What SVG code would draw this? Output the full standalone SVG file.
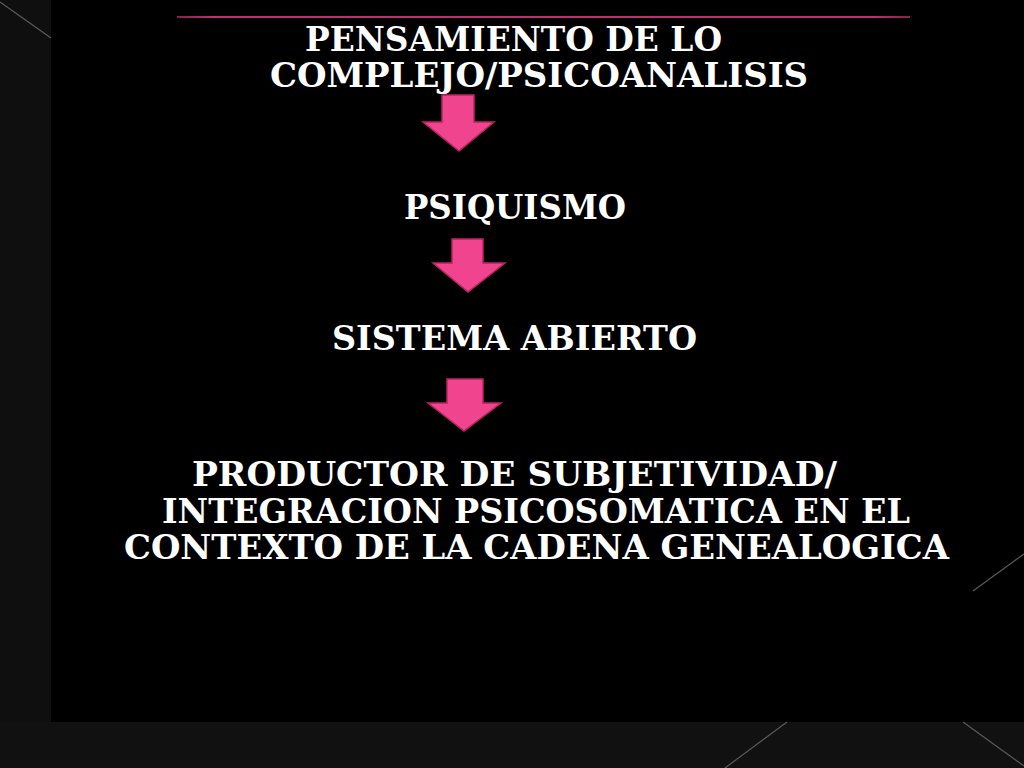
<svg xmlns="http://www.w3.org/2000/svg" width="1024" height="768" viewBox="0 0 1024 768">
<defs>
<style>
.t{font-family:"DejaVu Serif","Liberation Serif",serif;font-weight:bold;font-size:34px;fill:#ffffff}
.arrow{fill:#f0448f;stroke:#b8235f;stroke-width:1.5;stroke-linejoin:miter}
.edge{stroke:#5a5a5a;stroke-width:1.2;fill:none}
</style>
<linearGradient id="pl" gradientUnits="userSpaceOnUse" x1="177" y1="0" x2="910" y2="0">
<stop offset="0" stop-color="#8a2050"/>
<stop offset="0.05" stop-color="#c0306e"/>
<stop offset="0.95" stop-color="#c0306e"/>
<stop offset="1" stop-color="#8a2050"/>
</linearGradient>
</defs>
<rect x="0" y="0" width="1024" height="768" fill="#000"/>
<rect x="0" y="0" width="51" height="768" fill="#0f0f0f"/>
<rect x="0" y="722" width="1024" height="46" fill="#111"/>
<line class="edge" x1="0" y1="2" x2="51" y2="38"/>
<line class="edge" x1="1024" y1="554" x2="973" y2="591"/>
<line class="edge" x1="787" y1="722" x2="725" y2="768"/>
<line class="edge" x1="963" y1="722" x2="1024" y2="766"/>
<rect x="177" y="16" width="733" height="2" fill="url(#pl)"/>
<g id="n1">
<text class="t" x="305" y="51" textLength="417" lengthAdjust="spacingAndGlyphs">PENSAMIENTO DE LO</text>
<text class="t" x="270" y="87" textLength="538" lengthAdjust="spacingAndGlyphs">COMPLEJO/PSICOANALISIS</text>
</g>
<g id="n2">
<text class="t" x="404" y="219" textLength="222" lengthAdjust="spacingAndGlyphs">PSIQUISMO</text>
</g>
<g id="n3">
<text class="t" x="332" y="350" textLength="365" lengthAdjust="spacingAndGlyphs">SISTEMA ABIERTO</text>
</g>
<g id="n4">
<text class="t" x="192" y="486" textLength="645" lengthAdjust="spacingAndGlyphs">PRODUCTOR DE SUBJETIVIDAD/</text>
<text class="t" x="162" y="523" textLength="748" lengthAdjust="spacingAndGlyphs">INTEGRACION PSICOSOMATICA EN EL</text>
<text class="t" x="124" y="559" textLength="825" lengthAdjust="spacingAndGlyphs">CONTEXTO DE LA CADENA GENEALOGICA</text>
</g>
<g id="connectors">
<polygon class="arrow" points="442,95 474,95 474,122 494,122 459,151 423,122 442,122"/>
<polygon class="arrow" points="452,239 483,239 483,263 505,263 468,292 433,263 452,263"/>
<polygon class="arrow" points="447,379 483,379 483,403 501,403 464,431 428,403 447,403"/>
</g>
</svg>
